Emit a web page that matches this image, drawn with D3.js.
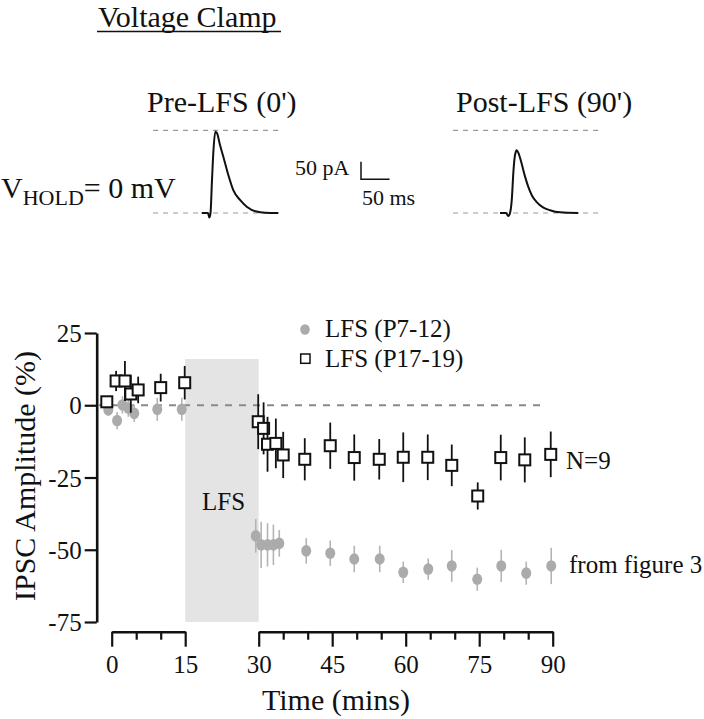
<!DOCTYPE html>
<html><head><meta charset="utf-8">
<script src="https://cdn.jsdelivr.net/npm/d3@7"></script>
<style>
body{margin:0;background:#fff;}
svg text{font-family:"Liberation Serif","Times New Roman",Times,serif;fill:#111;}
</style></head>
<body>
<svg id="c" width="704" height="719"></svg>
<script>
// ---------- data ----------
const squareTime = [-1, 0.9, 2.7, 3.9, 5.4, 10, 14.9, 29.9, 31, 31.8, 33.5, 35, 39.4, 44.6, 49.5, 54.6, 59.5, 64.5, 69.4, 74.7, 79.4, 84.3, 89.6];
const squareMean = [1.2, 8.4, 8.4, 3.9, 5.3, 6.1, 7.8, -5.7, -8, -13.5, -13.2, -17.2, -18.7, -14, -18.1, -18.7, -18, -18, -20.8, -31.4, -18.1, -18.9, -17];
const squareErr  = [0, 3.5, 6.9, 6.5, 4.6, 4.8, 5.8, 9.5, 9, 9.5, 8.6, 8, 7.3, 8, 8, 7, 8.6, 7.9, 7.2, 4.7, 7.9, 7.8, 7.9];

const circleTime = [-0.7, 1.1, 2.2, 3.4, 4.6, 9.3, 14.3, 29.4, 30.5, 31.8, 33, 34.2, 39.7, 44.6, 49.5, 54.7, 59.5, 64.6, 69.4, 74.6, 79.5, 84.6, 89.7];
const circleMean = [-1.6, -5.3, 0.1, -1, -2.8, -1.4, -1.4, -45.2, -48.3, -48.3, -48.3, -47.8, -50.4, -51.2, -53.2, -53.2, -57.8, -56.7, -55.6, -60.2, -55.6, -58.1, -55.6];
const circleErr  = [2, 3, 3, 3, 3, 4, 4, 5.8, 8, 7.5, 7, 4.6, 4.4, 4.4, 4.6, 4.6, 3.7, 3.7, 5.5, 4, 5.6, 4, 6.3];

const xTicksLeft = [0, 5, 10, 15];
const xTicksRight = [30, 35, 40, 45, 50, 55, 60, 65, 70, 75, 80, 85, 90];
const yTicks = [25, 0, -25, -50, -75];
const lfsWindow = [15, 30];
const lfsTop = 16;

// example traces: [ms, pA]
const preTrace = [[0,0],[11,0],[13.3,-13],[15.4,0],[18,94],[20.6,179],[23.8,231],[26.7,227],[32,193],[37.8,160],[46,111],[55.2,65],[67,37],[78.7,18],[96,4],[110.7,1],[134,0]];
const postTrace = [[0,0],[10.5,0],[14.5,-8.5],[17.5,0],[20.5,36],[23.6,121],[26.2,164],[29.2,178],[32.3,170],[37.9,140],[43.7,104],[49.5,74],[56,49],[64.2,31],[75.2,16],[87.4,8],[104.9,2],[136.9,0]];
const preDash = [-85, 134];
const postDash = [-82, 175];
const refAmp = 235;
const scaleBar = {pA: 50, ms: 50};

// ---------- drawing ----------
const svg = d3.select("#c");
const font = "'Liberation Serif','Times New Roman',Times,serif";

// header
svg.append("text").attr("x", 98).attr("y", 27).attr("font-size", 30).text("Voltage Clamp");
svg.append("line").attr("x1", 97).attr("x2", 281).attr("y1", 31.5).attr("y2", 31.5).attr("stroke", "#111").attr("stroke-width", 1.5);
svg.append("text").attr("x", 147).attr("y", 112).attr("font-size", 30).text("Pre-LFS (0')");
svg.append("text").attr("x", 456).attr("y", 112).attr("font-size", 30).text("Post-LFS (90')");
const vh = svg.append("text").attr("x", 1).attr("y", 198).attr("font-size", 30);
vh.append("tspan").text("V");
vh.append("tspan").attr("font-size", 22).attr("dy", 7).text("HOLD");
vh.append("tspan").attr("dy", -7).text("= 0 mV");

// traces
function drawTrace(data, x0, dash) {
  const tx = d3.scaleLinear().domain([0, scaleBar.ms]).range([x0, x0 + 28.6]);
  const ty = d3.scaleLinear().domain([0, scaleBar.pA]).range([213, 195.4]);
  [0, refAmp].forEach(a => {
    svg.append("line").attr("x1", tx(dash[0])).attr("x2", tx(dash[1]))
      .attr("y1", ty(a)).attr("y2", ty(a))
      .attr("stroke", "#999").attr("stroke-width", 1.2).attr("stroke-dasharray", "5,5");
  });
  svg.append("path").datum(data)
    .attr("d", d3.line().x(d => tx(d[0])).y(d => ty(d[1])).curve(d3.curveMonotoneX))
    .attr("fill", "none").attr("stroke", "#111").attr("stroke-width", 2);
}
drawTrace(preTrace, 201.7, preDash);
drawTrace(postTrace, 500, postDash);

// scale bar
{
  const bx = 361, by = 179.3;
  const sx = d3.scaleLinear().domain([0, scaleBar.ms]).range([bx, bx + 28.6]);
  const sy = d3.scaleLinear().domain([0, scaleBar.pA]).range([by, by - 17.6]);
  svg.append("path").attr("d", `M${sx(0)},${sy(scaleBar.pA)}V${sy(0)}H${sx(scaleBar.ms)}`)
    .attr("fill", "none").attr("stroke", "#111").attr("stroke-width", 1.5);
  svg.append("text").attr("x", 295).attr("y", 175).attr("font-size", 22).text("50 pA");
  svg.append("text").attr("x", 362).attr("y", 205).attr("font-size", 22).text("50 ms");
}

// main plot
const x = d3.scaleLinear().domain([0, 90]).range([111.7, 552.7]);
const y = d3.scaleLinear().domain([-75, 25]).range([622, 333]);

// LFS box
svg.append("rect").attr("x", x(lfsWindow[0])).attr("y", y(lfsTop))
  .attr("width", x(lfsWindow[1]) - x(lfsWindow[0])).attr("height", y(-75) - y(lfsTop))
  .attr("fill", "#e4e4e4");
svg.append("text").attr("x", 202).attr("y", 510).attr("font-size", 25).text("LFS");

// zero line
svg.append("line").attr("x1", 99).attr("x2", x(88)).attr("y1", y(0)).attr("y2", y(0))
  .attr("stroke", "#8a8a8a").attr("stroke-width", 2).attr("stroke-dasharray", "7,7");

// y axis
const yAx = svg.append("g").attr("transform", "translate(96.7,0)")
  .call(d3.axisLeft(y).tickValues(yTicks).tickSize(12).tickSizeOuter(0).tickPadding(3).tickFormat(d => String(d)));
yAx.attr("font-family", font);
yAx.select(".domain").attr("stroke", "#111").attr("stroke-width", 2.6);
yAx.selectAll(".tick line").attr("stroke", "#111").attr("stroke-width", 2.2);
yAx.selectAll(".tick text").attr("font-size", 25).attr("fill", "#111").attr("dy", "0.34em");

// x axis (broken)
function xSeg(ticks) {
  const s = x.copy().domain([ticks[0], ticks[ticks.length - 1]]).range([x(ticks[0]), x(ticks[ticks.length - 1])]);
  const g = svg.append("g").attr("transform", "translate(0,631.7)")
    .call(d3.axisBottom(s).tickValues(ticks).tickSize(8).tickSizeOuter(0)
      .tickFormat(d => d % 15 === 0 ? String(d) : ""));
  g.attr("font-family", font);
  g.select(".domain").attr("stroke", "#111").attr("stroke-width", 2.6);
  g.selectAll(".tick line").attr("stroke", "#111").attr("stroke-width", 2.2)
    .attr("y2", d => d % 15 === 0 ? 15 : 8);
  g.selectAll(".tick text").attr("font-size", 25).attr("fill", "#111")
    .attr("y", 41).attr("dy", null);
}
xSeg(xTicksLeft);
xSeg(xTicksRight);

svg.append("text").attr("x", 336).attr("y", 710).attr("text-anchor", "middle").attr("font-size", 30).text("Time (mins)");
svg.append("text").attr("transform", "translate(35,476) rotate(-90)").attr("text-anchor", "middle")
  .attr("font-size", 30).text("IPSC Amplitude (%)");

// circles series
const circ = circleTime.map((t, i) => ({t, m: circleMean[i], e: circleErr[i]}));
const cg = svg.append("g");
cg.selectAll("line").data(circ).join("line")
  .attr("x1", d => x(d.t)).attr("x2", d => x(d.t))
  .attr("y1", d => y(d.m - d.e)).attr("y2", d => y(d.m + d.e))
  .attr("stroke", "#b4b4b4").attr("stroke-width", 1.6);
cg.selectAll("ellipse").data(circ).join("ellipse")
  .attr("cx", d => x(d.t)).attr("cy", d => y(d.m)).attr("rx", 5).attr("ry", 5.8)
  .attr("fill", "#ababab");

// squares series
const sq = squareTime.map((t, i) => ({t, m: squareMean[i], e: squareErr[i]}));
const sgs = svg.append("g").selectAll("g").data(sq).join("g");
sgs.append("line")
  .attr("x1", d => x(d.t)).attr("x2", d => x(d.t))
  .attr("y1", d => y(d.m - d.e)).attr("y2", d => y(d.m + d.e))
  .attr("stroke", "#111").attr("stroke-width", 1.8);
sgs.append("rect")
  .attr("x", d => x(d.t) - 5.5).attr("y", d => y(d.m) - 5.5).attr("width", 11).attr("height", 11)
  .attr("fill", "#fff").attr("stroke", "#111").attr("stroke-width", 2);

// legend
svg.append("ellipse").attr("cx", 305).attr("cy", 329.5).attr("rx", 4.8).attr("ry", 5.2).attr("fill", "#ababab");
svg.append("text").attr("x", 325).attr("y", 337).attr("font-size", 25).text("LFS (P7-12)");
svg.append("rect").attr("x", 300.7).attr("y", 354).attr("width", 9.3).attr("height", 9.3)
  .attr("fill", "#fff").attr("stroke", "#111").attr("stroke-width", 1.5);
svg.append("text").attr("x", 325).attr("y", 367).attr("font-size", 25).text("LFS (P17-19)");

// annotations
svg.append("text").attr("x", 566).attr("y", 469).attr("font-size", 25).text("N=9");
svg.append("text").attr("x", 569).attr("y", 573).attr("font-size", 25).text("from figure 3");
</script>
</body></html>
